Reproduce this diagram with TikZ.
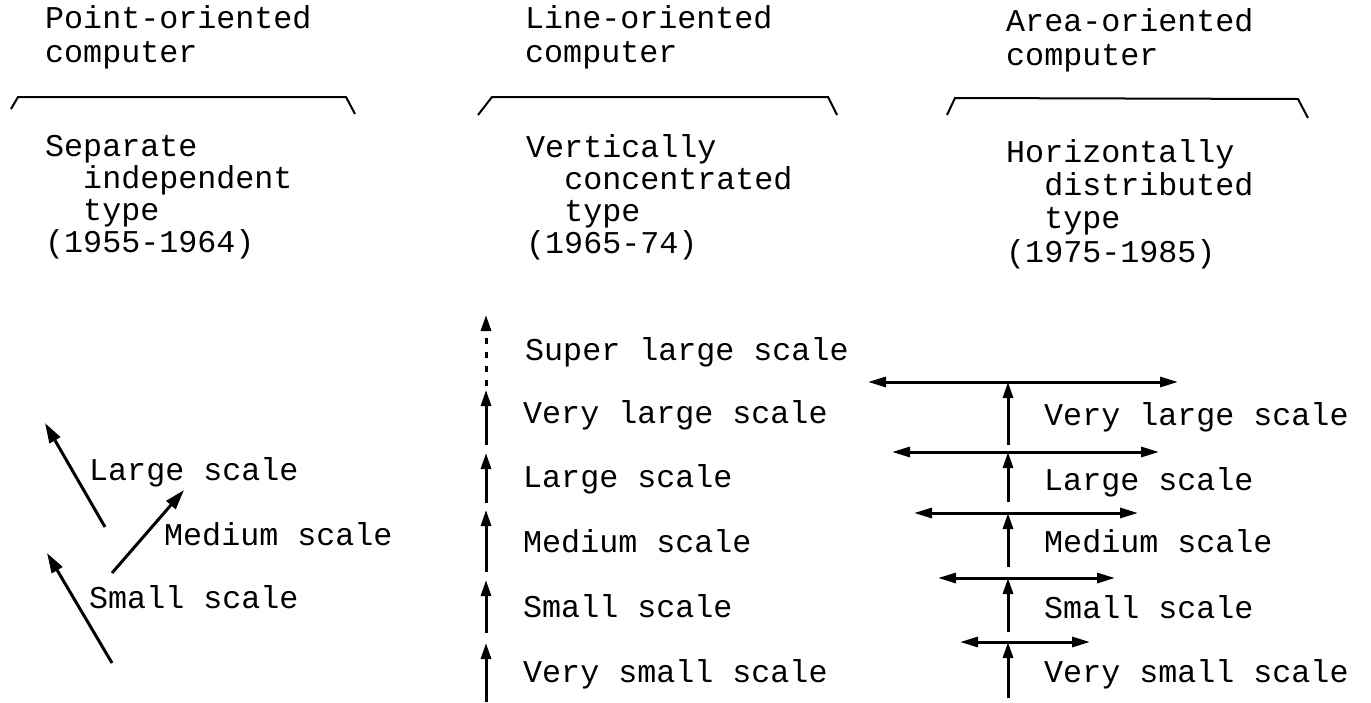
\documentclass[tikz,border=0pt]{standalone}
\usepackage{fontspec}
\setmainfont{Liberation Mono}
\usetikzlibrary{arrows.meta, positioning}

\newcommand{\ind}{\hphantom{xx}}

\begin{document}
\begin{tikzpicture}[x=1pt, y=-1pt,
        heading/.style={anchor=base west, align=left, inner sep=0pt, font=\fontsize{31.7}{34}\selectfont},
        period/.style={anchor=base west, align=left, inner sep=0pt, font=\fontsize{31.7}{31.7}\selectfont},
        lvl/.style={anchor=base west, inner sep=0pt, font=\fontsize{31.7}{32}\selectfont},
        brace/.style={line width=2pt, line join=miter},
        slantarrow/.style={-{Triangle[length=20pt, width=12pt]}, line width=3pt},
        uparrow/.style={-{Triangle[length=16pt, width=10pt]}, line width=3pt},
        bothways/.style={{Triangle[length=18pt, width=10pt]}-{Triangle[length=18pt, width=10pt]}, line width=3pt}
    ]
        \useasboundingbox (0,0) rectangle (1371,702);

        % Headings (anchored at the last line)
        \node[heading] (pt) at (45,62) {Point-oriented\\computer};
        \node[heading] (ln) at (525,62) {Line-oriented\\computer};
        \node[heading] (ar) at (1006,65) {Area-oriented\\computer};

        \draw[brace] (11,109) -- (18,97) -- (346,97) -- (355,114);
        \draw[brace] (478,115) -- (492,97) -- (828,97) -- (837,115);
        \draw[brace] (947,115) -- (955,98) -- (1298,99) -- (1308,118);

        \node[period] (sep) at (45,252) {Separate\\\ind independent\\\ind type\\(1955-1964)};
        \node[period] (ver) at (526,253) {Vertically\\\ind concentrated\\\ind type\\(1965-74)};
        \node[period, font=\fontsize{31.7}{33.3}\selectfont] (hor) at (1006,262) {Horizontally\\\ind distributed\\\ind type\\(1975-1985)};

        % Point-oriented
        \node[lvl] (pl) at (89,480) {Large scale};
        \node[lvl] (pm) at (164,545) {Medium scale};
        \node[lvl] (ps) at (89,608) {Small scale};

        \coordinate (pl0) at (105,527);
        \coordinate (pl1) at (45,423);
        \coordinate (pm0) at (112,573);
        \coordinate (pm1) at (184,490);
        \coordinate (ps0) at (112,663);
        \coordinate (ps1) at (47,553);
        \draw[slantarrow] (pl0) -- (pl1);
        \draw[slantarrow] (pm0) -- (pm1);
        \draw[slantarrow] (ps0) -- (ps1);

        % Line-oriented
        \node[lvl] (lsl) at (525,360) {Super large scale};
        \node[lvl] (lvlg) at (523,423) {Very large scale};
        \node[lvl] (ll) at (523,487) {Large scale};
        \node[lvl] (lm) at (523,552) {Medium scale};
        \node[lvl] (ls) at (523,617) {Small scale};
        \node[lvl] (lvs) at (523,682) {Very small scale};

        \coordinate (u0) at (486,702);
        \coordinate (u1) at (486,643);
        \coordinate (u2) at (486,633);
        \coordinate (u3) at (486,580);
        \coordinate (u4) at (486,572);
        \coordinate (u5) at (486,510);
        \coordinate (u6) at (486,503);
        \coordinate (u7) at (486,453);
        \coordinate (u8) at (486,445);
        \coordinate (u9) at (486,390);
        \coordinate (u10) at (486,386);
        \coordinate (u11) at (486,315);
        \draw[uparrow] (u0) -- (u1);
        \draw[uparrow] (u2) -- (u3);
        \draw[uparrow] (u4) -- (u5);
        \draw[uparrow] (u6) -- (u7);
        \draw[uparrow] (u8) -- (u9);
        \draw[uparrow, dash pattern=on 6pt off 8pt] (u10) -- (u11);

        % Area-oriented
        \node[lvl] (avl) at (1044,425) {Very large scale};
        \node[lvl] (al) at (1044,490) {Large scale};
        \node[lvl] (am) at (1044,552) {Medium scale};
        \node[lvl] (as) at (1044,618) {Small scale};
        \node[lvl] (avs) at (1044,682) {Very small scale};

        \coordinate (h1l) at (868,382);
        \coordinate (h1r) at (1178,382);
        \coordinate (h2l) at (892,452);
        \coordinate (h2r) at (1159,452);
        \coordinate (h3l) at (914,513);
        \coordinate (h3r) at (1138,513);
        \coordinate (h4l) at (938,578);
        \coordinate (h4r) at (1115,578);
        \coordinate (h5l) at (960,642);
        \coordinate (h5r) at (1090,642);
        \coordinate (v1) at (1008,445);
        \coordinate (v2) at (1008,502);
        \coordinate (v3) at (1008,567);
        \coordinate (v4) at (1008,632);
        \coordinate (v5) at (1008,698);

        \draw[bothways] (h1l) -- (h1r);
        \draw[bothways] (h2l) -- (h2r);
        \draw[bothways] (h3l) -- (h3r);
        \draw[bothways] (h4l) -- (h4r);
        \draw[bothways] (h5l) -- (h5r);
        \draw[uparrow] (v1) -- (v1 |- h1l);
        \draw[uparrow] (v2) -- (v2 |- h2l);
        \draw[uparrow] (v3) -- (v3 |- h3l);
        \draw[uparrow] (v4) -- (v4 |- h4l);
        \draw[uparrow] (v5) -- (v5 |- h5l);
    \end{tikzpicture}
\end{document}
